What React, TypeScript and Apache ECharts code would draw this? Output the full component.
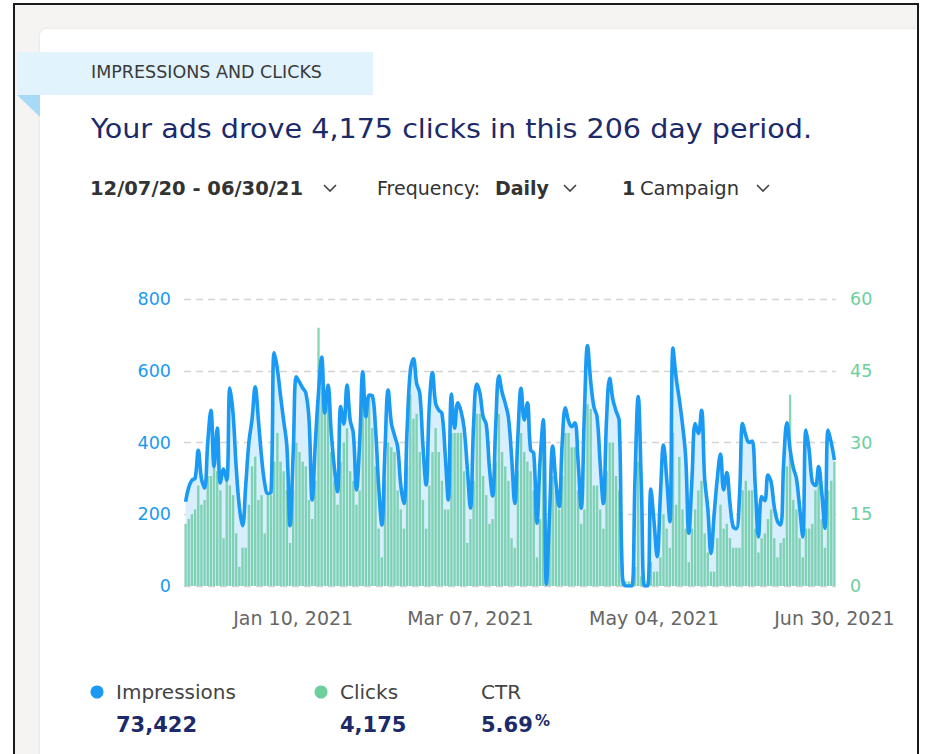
import React, { useEffect, useRef } from "react";
import * as echarts from "echarts";

// ---- data ----
const impressions: number[] = [
  235, 275, 295, 300, 378, 300, 273, 400, 490, 333,
  440, 287, 326, 295, 552, 480, 330, 220, 168, 280,
  400, 465, 555, 463, 360, 286, 258, 262, 650, 605,
  530, 460, 390, 168, 370, 583, 568, 552, 538, 465,
  240, 400, 540, 638, 482, 560, 430, 330, 263, 500,
  452, 560, 463, 425, 268, 400, 597, 472, 532, 530,
  440, 280, 170, 380, 546, 455, 420, 388, 280, 230,
  440, 600, 633, 565, 537, 390, 282, 500, 595, 509,
  490, 481, 370, 240, 535, 440, 511, 488, 440, 330,
  217, 450, 563, 537, 472, 450, 330, 251, 450, 586,
  540, 509, 470, 360, 230, 420, 551, 463, 511, 380,
  370, 175, 350, 463, 5, 200, 390, 290, 221, 400,
  497, 460, 444, 455, 350, 217, 480, 670, 570, 500,
  472, 340, 230, 463, 579, 520, 488, 460, 30, 0,
  0, 0, 300, 528, 280, 0, 0, 270, 180, 82,
  250, 393, 300, 179, 663, 580, 520, 450, 360, 147,
  300, 453, 425, 490, 300, 215, 91, 200, 300, 368,
  268, 316, 230, 165, 160, 250, 453, 420, 400, 404,
  277, 137, 249, 238, 309, 290, 220, 180, 170, 350,
  455, 380, 330, 300, 220, 137, 435, 380, 290, 280,
  333, 260, 161, 435, 400, 351,
];

const clicks: number[] = [
  13, 14, 15, 16, 21, 17, 18, 23, 23, 25,
  24, 20, 10, 23, 21, 19, 11, 4, 8, 8,
  17, 25, 27, 18, 19, 11, 19, 19, 26, 32,
  26, 24, 20, 9, 20, 30, 28, 26, 25, 18,
  14, 22, 54, 43, 38, 40, 28, 22, 17, 26,
  30, 33, 24, 22, 17, 20, 42, 38, 40, 33,
  25, 12, 6, 22, 30, 29, 28, 20, 16, 12,
  25, 40, 35, 36, 28, 18, 12, 21, 28, 33,
  28, 22, 16, 16, 32, 32, 32, 32, 24, 9,
  14, 22, 36, 36, 23, 19, 13, 14, 26, 36,
  28, 25, 22, 10, 8, 24, 32, 28, 26, 24,
  20, 6, 14, 35, 1, 14, 23, 20, 16, 23,
  32, 32, 29, 29, 20, 13, 16, 38, 37, 21,
  21, 16, 12, 24, 30, 30, 23, 20, 1, 1,
  1, 1, 4, 26, 2, 0, 1, 5, 3, 3,
  6, 15, 12, 8, 32, 17, 27, 16, 12, 5,
  12, 16, 20, 22, 11, 7, 3, 3, 10, 17,
  12, 13, 10, 8, 8, 8, 20, 22, 20, 20,
  12, 7, 10, 11, 14, 16, 10, 6, 9, 10,
  25, 40, 18, 16, 10, 6, 12, 12, 13, 20,
  22, 14, 8, 20, 22, 26,
];

const xTickLabels: string[] = ["Jan 10, 2021", "Mar 07, 2021", "May 04, 2021", "Jun 30, 2021"];
const impTicks = { min: 0, max: 800, interval: 200 };
const clickTicks = { min: 0, max: 60, interval: 15 };

const MONTHS = ["Jan", "Feb", "Mar", "Apr", "May", "Jun", "Jul", "Aug", "Sep", "Oct", "Nov", "Dec"];
const START = Date.UTC(2020, 11, 7);
const days: string[] = impressions.map((_, i) => {
  const d = new Date(START + i * 86400000);
  return `${MONTHS[d.getUTCMonth()]} ${String(d.getUTCDate()).padStart(2, "0")}, ${d.getUTCFullYear()}`;
});

const headerTitle = "Your ads drove 4,175 clicks in this 206 day period.";
const totals = { impressions: "73,422", clicks: "4,175", ctr: "5.69" };

const BLUE = "#1a9af2";
const GREEN = "#6dcf9c";
const NAVY = "#1c2a6b";
const FONT = "'DejaVu Sans', 'Open Sans', sans-serif";

function chevron(x: number, y: number) {
  return {
    type: "polyline",
    shape: { points: [[x, y], [x + 6, y + 6], [x + 12, y]] },
    style: { stroke: "#444", lineWidth: 1.6, fill: null },
  };
}

export default function App() {
  const ref = useRef<HTMLDivElement>(null);
  useEffect(() => {
    if (!ref.current) return;
    const chart = echarts.init(ref.current, undefined, { renderer: "svg" });
    const option: any = {
      animation: false,
      grid: { left: 184, right: 89, top: 299, bottom: 168 },
      xAxis: {
        type: "category",
        data: days,
        boundaryGap: true,
        axisLine: { show: false },
        axisTick: { show: false },
        axisLabel: {
          interval: (_i: number, v: string) => xTickLabels.indexOf(v) >= 0,
          color: "#666",
          fontSize: 19,
          fontFamily: FONT,
          margin: 22,
        },
      },
      yAxis: [
        {
          type: "value",
          ...impTicks,
          position: "left",
          axisLine: { show: false },
          axisTick: { show: false },
          axisLabel: { color: BLUE, fontSize: 17.5, fontFamily: FONT, margin: 13 },
          splitLine: { lineStyle: { color: "#d4d4d4", width: 1.3, type: [7, 5] } },
        },
        {
          type: "value",
          ...clickTicks,
          position: "right",
          axisLine: { show: false },
          axisTick: { show: false },
          axisLabel: { color: GREEN, fontSize: 17.5, fontFamily: FONT, margin: 14 },
          splitLine: { show: false },
        },
      ],
      series: [
        {
          type: "line",
          name: "area",
          data: impressions,
          smooth: 0.4,
          symbol: "none",
          lineStyle: { width: 0 },
          areaStyle: { color: "#d7eefc", opacity: 1 },
          z: 1,
          silent: true,
        },
        {
          type: "bar",
          name: "Clicks",
          yAxisIndex: 1,
          data: clicks,
          barCategoryGap: "25%",
          itemStyle: { color: "rgba(96, 200, 155, 0.75)" },
          z: 2,
        },
        {
          type: "line",
          name: "Impressions",
          data: impressions,
          smooth: 0.4,
          symbol: "none",
          lineStyle: { color: BLUE, width: 3.6 },
          z: 3,
        },
      ],
      graphic: [
        { type: "rect", shape: { x: 17, y: 52, width: 356, height: 43 }, style: { fill: "#e1f3fd" } },
        { type: "polygon", shape: { points: [[17, 95], [40, 95], [40, 117]] }, style: { fill: "#a8d9f6" } },
        {
          type: "text", x: 91, y: 72,
          style: { text: "IMPRESSIONS AND CLICKS", fontSize: 17.5, fontFamily: FONT, fill: "#3a3a3a", textVerticalAlign: "middle" },
        },
        {
          type: "text", x: 91, y: 129, scaleX: 1.1,
          style: { text: headerTitle, fontSize: 26, fontFamily: FONT, fill: NAVY, textVerticalAlign: "middle" },
        },
        {
          type: "text", x: 90, y: 188,
          style: { text: "12/07/20 - 06/30/21", fontSize: 19.5, fontWeight: "bold", fontFamily: FONT, fill: "#333", textVerticalAlign: "middle" },
        },
        chevron(324, 185),
        {
          type: "text", x: 377, y: 188,
          style: { text: "Frequency:", fontSize: 19, fontFamily: FONT, fill: "#333", textVerticalAlign: "middle" },
        },
        {
          type: "text", x: 549, y: 188,
          style: { text: "Daily", fontSize: 19, fontWeight: "bold", fontFamily: FONT, fill: "#333", textAlign: "right", textVerticalAlign: "middle" },
        },
        chevron(564, 185),
        {
          type: "text", x: 622, y: 188,
          style: { text: "1", fontSize: 19, fontWeight: "bold", fontFamily: FONT, fill: "#333", textVerticalAlign: "middle" },
        },
        {
          type: "text", x: 640, y: 188,
          style: { text: "Campaign", fontSize: 19.5, fontFamily: FONT, fill: "#333", textVerticalAlign: "middle" },
        },
        chevron(757, 185),
        { type: "circle", shape: { cx: 97, cy: 692, r: 6.5 }, style: { fill: BLUE } },
        {
          type: "text", x: 116, y: 692,
          style: { text: "Impressions", fontSize: 20, fontFamily: FONT, fill: "#444", textVerticalAlign: "middle" },
        },
        {
          type: "text", x: 116, y: 725,
          style: { text: totals.impressions, fontSize: 21, fontWeight: "bold", fontFamily: FONT, fill: NAVY, textVerticalAlign: "middle" },
        },
        { type: "circle", shape: { cx: 321, cy: 692, r: 6.5 }, style: { fill: GREEN } },
        {
          type: "text", x: 340, y: 692,
          style: { text: "Clicks", fontSize: 20, fontFamily: FONT, fill: "#444", textVerticalAlign: "middle" },
        },
        {
          type: "text", x: 340, y: 725,
          style: { text: totals.clicks, fontSize: 21, fontWeight: "bold", fontFamily: FONT, fill: NAVY, textVerticalAlign: "middle" },
        },
        {
          type: "text", x: 481, y: 692,
          style: { text: "CTR", fontSize: 20, fontFamily: FONT, fill: "#444", textVerticalAlign: "middle" },
        },
        {
          type: "text", x: 481, y: 725,
          style: { text: totals.ctr, fontSize: 21, fontWeight: "bold", fontFamily: FONT, fill: NAVY, textVerticalAlign: "middle" },
        },
        {
          type: "text", x: 535, y: 721,
          style: { text: "%", fontSize: 15, fontWeight: "bold", fontFamily: FONT, fill: NAVY, textVerticalAlign: "middle" },
        },
      ],
    };
    chart.setOption(option);
    return () => chart.dispose();
  }, []);

  return (
    <div style={{ position: "fixed", left: 0, top: 0, width: 925, height: 754, background: "#fff", overflow: "hidden" }}>
      <div
        style={{
          position: "absolute", left: 13, top: 3, width: 906, height: 770,
          border: "2px solid #1a1a1a", boxSizing: "border-box", background: "#f5f4f2",
        }}
      />
      <div
        style={{
          position: "absolute", left: 40, top: 29, width: 877, height: 740,
          background: "#fff", borderRadius: "6px 0 0 0", boxShadow: "0 0 3px rgba(0,0,0,0.10)",
        }}
      />
      <div ref={ref} style={{ position: "absolute", left: 0, top: 0, width: 925, height: 754 }} />
    </div>
  );
}
